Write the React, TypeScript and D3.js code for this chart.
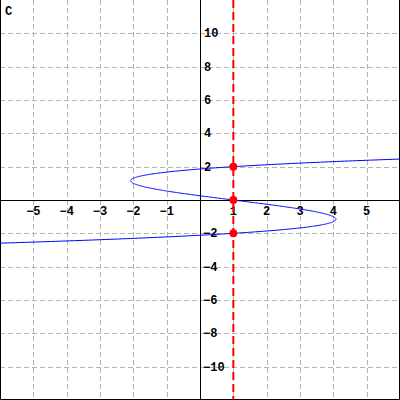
import React from 'react';
import * as d3 from 'd3';

// axis extents and tick values
const xDomain = [-6, 6];
const yDomain = [-12, 12];
const xTicks = [-5, -4, -3, -2, -1, 1, 2, 3, 4, 5];
const yTicks = [-10, -8, -6, -4, -2, 2, 4, 6, 8, 10];
const xGrid = [-5, -4, -3, -2, -1, 1, 2, 3, 4, 5];
const yGrid = [-10, -8, -6, -4, -2, 2, 4, 6, 8, 10];

// curve x = c0 + c1*y + c2*y^2 + c3*y^3 (through (1,-2),(1,0),(1,2))
const curveCoeffs = [1, -4, 0, 1];
const curveYRange = [-2.62, 2.52];

// vertical line and marked points
const lineX = 1;
const pointsX = [1, 1, 1];
const pointsY = [2, 0, -2];

const panelLabel = 'C';

const W = 400, H = 400;

export default function App() {
  const x = d3.scaleLinear().domain(xDomain).range([0, W]);
  const y = d3.scaleLinear().domain(yDomain).range([H, 0]);

  const fx = (t: number) => curveCoeffs.reduce((s, c, i) => s + c * Math.pow(t, i), 0);
  const ys = d3.range(curveYRange[0], curveYRange[1], 0.01).concat([curveYRange[1]]);
  const line = d3.line<number>().x(t => x(fx(t))).y(t => y(t));

  const font = { fontFamily: '"Liberation Mono", "Courier New", monospace', fontWeight: 'bold' as const, fontSize: 12 };

  return (
    <svg width={W} height={H} style={{ position: 'absolute', left: 0, top: 0, background: '#fff' }}>
      {/* grid */}
      <g stroke="#b4b4b4" strokeWidth={1} strokeDasharray="5,3">
        {xGrid.map(v => (
          <line key={'gx' + v} x1={Math.round(x(v)) + 0.5} x2={Math.round(x(v)) + 0.5} y1={0} y2={H} />
        ))}
        {yGrid.map(v => (
          <line key={'gy' + v} y1={Math.round(y(v)) + 0.5} y2={Math.round(y(v)) + 0.5} x1={0} x2={W} />
        ))}
      </g>
      {/* axes */}
      <line x1={0} x2={W} y1={Math.round(y(0)) + 0.5} y2={Math.round(y(0)) + 0.5} stroke="#000" />
      <line y1={0} y2={H} x1={Math.round(x(0)) + 0.5} x2={Math.round(x(0)) + 0.5} stroke="#000" />
      {/* tick labels */}
      <g style={font} fill="#000">
        {xTicks.map(v => (
          <text key={'tx' + v} x={x(v)} y={y(0) + 15} textAnchor="middle">{v < 0 ? '\u2212' + Math.abs(v) : v}</text>
        ))}
        {yTicks.map(v => (
          <text key={'ty' + v} x={x(0) + (v < 0 ? 3 : 4)} y={y(v) + 4} textAnchor="start">{v < 0 ? '\u2212' + Math.abs(v) : v}</text>
        ))}
      </g>
      {/* curve */}
      <path d={line(ys) || ''} fill="none" stroke="#0000ff" strokeWidth={1} />
      {/* vertical line */}
      <line x1={x(lineX)} x2={x(lineX)} y1={0} y2={H} stroke="#ff0000" strokeWidth={2} strokeDasharray="8,4" />
      {/* points */}
      {pointsY.map((v, i) => (
        <circle key={'p' + i} cx={x(pointsX[i])} cy={y(v)} r={4} fill="#ff0000" />
      ))}
      <text x={5} y={15} style={font}>{panelLabel}</text>
      {/* frame: left, bottom, right */}
      <path d={`M0.5,0V${H - 0.5}H${W - 0.5}V0`} fill="none" stroke="#000" />
    </svg>
  );
}
